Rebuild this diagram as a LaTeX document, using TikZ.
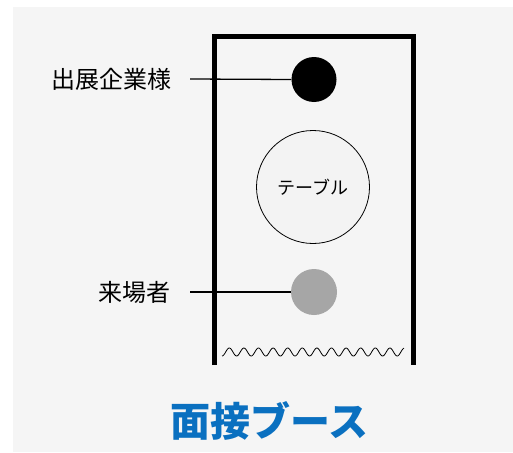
\documentclass[tikz,border=0pt]{standalone}
\usepackage{fontspec}
\newfontfamily\jp{Noto Sans CJK JP}
\definecolor{bg}{HTML}{F5F5F5}
\definecolor{tablefill}{HTML}{F3F3F3}
\definecolor{visitor}{HTML}{A6A6A6}
\definecolor{ttl}{HTML}{0A70C0}
\tikzset{
  wall/.style={line width=5pt, line join=miter},
  lbl/.style={font=\jp\fontsize{24}{24}\selectfont, inner sep=0pt},
  pointer/.style={line width=1.3pt},
  person/.style={circle, inner sep=0pt, minimum size=45pt},
}
\begin{document}
\begin{tikzpicture}[x=1pt,y=-1pt]
\useasboundingbox (0,0) rectangle (513,452);
\fill[white] (0,0) rectangle (513,452);
\fill[bg] (13,7) rectangle (513,452);
% booth walls
\draw[wall] (214.5,365) -- (214.5,36.5) -- (413,36.5) -- (413,365);
% wavy opening
\draw[line width=0.8pt] plot[domain=222:404, samples=240, smooth] (\x, {352+4*cos((\x-222)/14.6*360)});
% people and table
\node[person, fill=black] (exh) at (314,79.5) {};
\node[circle, draw, line width=0.8pt, fill=tablefill, minimum size=113pt, inner sep=0pt,
      font=\jp\fontsize{18}{18}\selectfont] (tbl) at (313,187) {テーブル};
\node[person, fill=visitor, minimum size=46pt] (vis) at (314,292) {};
% labels
\node[lbl] (lexh) at (111,79) {出展企業様};
\node[lbl] (lvis) at (134.5,292) {来場者};
\coordinate (pexh) at (190,79);
\coordinate (pvis) at (190,292);
\draw[pointer] (pexh) -- (exh.west);
\draw[pointer] (pvis) -- (vis.west);
% title
\node[font=\jp\bfseries\fontsize{40}{40}\selectfont, text=ttl] (title) at (269,421) {面接ブース};
\end{tikzpicture}
\end{document}
